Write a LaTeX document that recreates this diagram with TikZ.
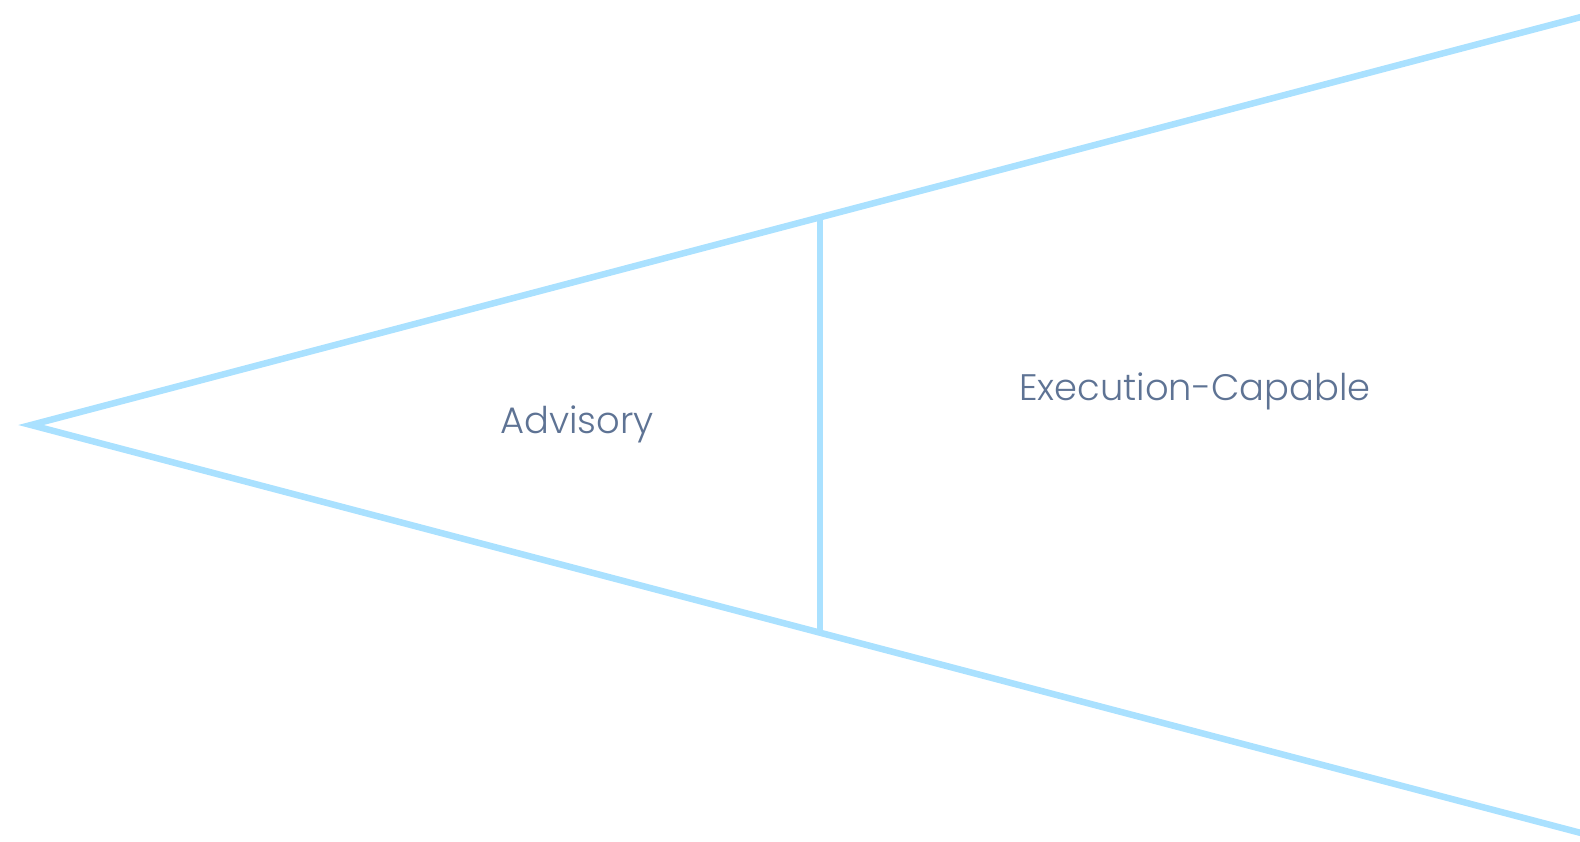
\documentclass[tikz,border=0pt]{standalone}
\usepackage{fontspec}
\setmainfont{Poppins}[UprightFont=* Light]
\definecolor{wedge}{RGB}{170,225,255}
\definecolor{txt}{RGB}{94,115,148}
\begin{document}
\begin{tikzpicture}[x=1bp,y=-1bp,
  edge/.style={draw=wedge,line width=6.5bp},
  lbl/.style={text=txt,font=\fontsize{37}{40}\selectfont,inner sep=0pt,anchor=base}]
\useasboundingbox (0,0) rectangle (1580,841);
\coordinate (apex) at (31,425);
\coordinate (tr) at (1600,12);
\coordinate (br) at (1600,838);
\coordinate (vt) at (820,218);
\coordinate (vb) at (820,632);
\draw[edge,line join=miter] (tr) -- (apex) -- (br);
\draw[edge] (vt) -- (vb);
\node[lbl] (adv) at (577,433) {Advisory};
\node[lbl] (exe) at (1195,400) {Execution-Capable};
\end{tikzpicture}
\end{document}
